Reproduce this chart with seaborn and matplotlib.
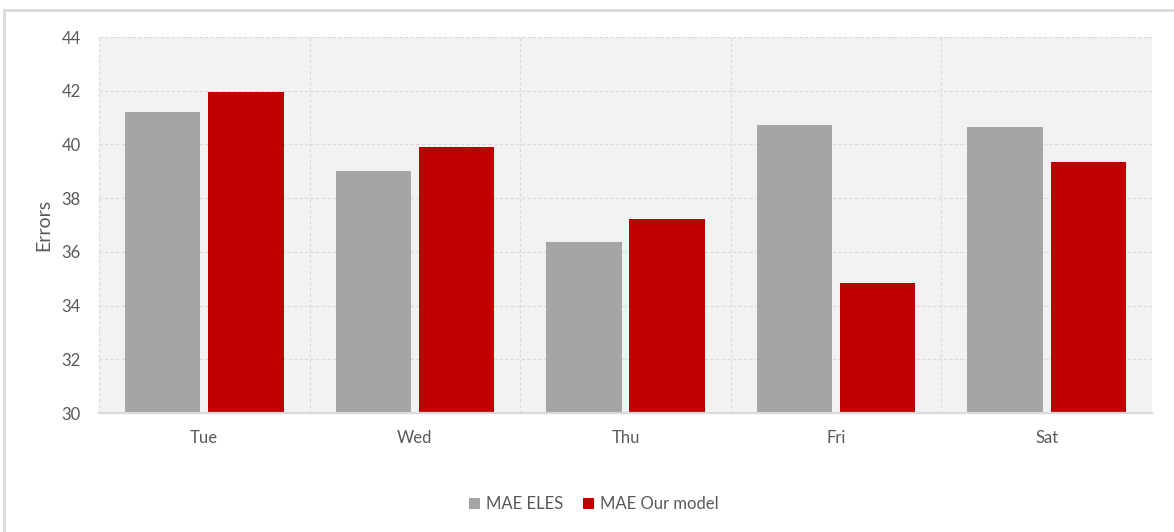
import matplotlib
matplotlib.use("Agg")
import matplotlib.pyplot as plt
from matplotlib.patches import Patch, Rectangle
import seaborn as sns
import pandas as pd

days = ["Tue", "Wed", "Thu", "Fri", "Sat"]
mae_eles = [41.22, 39.01, 36.37, 40.72, 40.65]
mae_ours = [41.95, 39.90, 37.22, 34.84, 39.35]
series_names = ["MAE ELES", "MAE Our model"]
y_ticks = [30, 32, 34, 36, 38, 40, 42, 44]

df = pd.DataFrame({
    "day": days * 2,
    "value": mae_eles + mae_ours,
    "series": [series_names[0]] * len(days) + [series_names[1]] * len(days),
})

sns.set_theme(style="white")
plt.rcParams["font.family"] = ["Lato", "DejaVu Sans"]

text_color = "#595959"
grid_color = "#d9d9d9"
colors = {series_names[0]: "#a5a5a5", series_names[1]: "#c00000"}

fig = plt.figure(figsize=(11.74, 5.32), dpi=100)
ax = fig.add_axes([99 / 1174, 1 - 413 / 532, (1152 - 99) / 1174, (413 - 37) / 532])
ax.set_facecolor("#f2f2f2")

sns.barplot(data=df, x="day", y="value", hue="series", palette=colors,
            width=0.79, gap=0.095, saturation=1, linewidth=0, ax=ax,
            legend=False, zorder=3)

ax.set_ylim(30, 44)
ax.set_yticks(y_ticks)
ax.set_xlim(-0.5, len(days) - 0.5)
ax.set_xticks(range(len(days)))
ax.set_xticks([i - 0.5 for i in range(len(days) + 1)], minor=True)

ax.grid(axis="y", which="major", color=grid_color, linestyle=(0, (3, 2)), linewidth=0.8, zorder=0)
ax.grid(axis="x", which="minor", color=grid_color, linestyle=(0, (3, 2)), linewidth=0.8, zorder=0)
ax.grid(axis="x", which="major", visible=False)
ax.set_axisbelow(True)

for side in ["top", "right", "left"]:
    ax.spines[side].set_visible(False)
ax.spines["bottom"].set_color(grid_color)
ax.spines["bottom"].set_linewidth(1.6)
ax.spines["bottom"].set_zorder(4)

ax.tick_params(axis="both", which="both", length=0, colors=text_color, labelsize=12)
ax.tick_params(axis="x", pad=12)
ax.tick_params(axis="y", pad=13)
ax.set_xlabel("")
ax.set_ylabel("Errors", color=text_color, fontsize=14, labelpad=7)

handles = [Patch(facecolor=colors[s], edgecolor="none", label=s) for s in series_names]
fig.legend(handles=handles, loc="center", bbox_to_anchor=(0.506, 1 - 504 / 532),
           ncol=2, frameon=False, fontsize=12, labelcolor=text_color,
           handlelength=0.65, handleheight=0.65, handletextpad=0.35, columnspacing=1.2)

# chart frame
fig.patches.append(Rectangle((4 / 1174, -0.2), 1.5, 1.2 - 10 / 532, transform=fig.transFigure,
                             fill=False, edgecolor=grid_color, linewidth=2, zorder=0))

fig.savefig("out.png", dpi=100)
